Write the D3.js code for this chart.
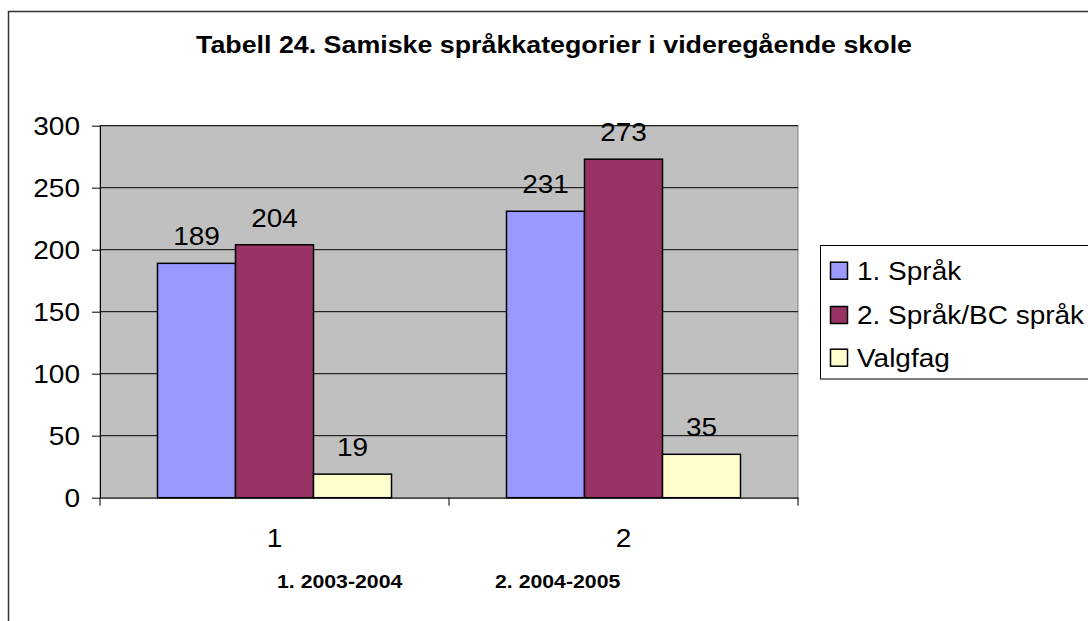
<!DOCTYPE html>
<html><head><meta charset="utf-8">
<script src="https://cdn.jsdelivr.net/npm/d3@7"></script>
<style>body{margin:0;background:#fff}svg{display:block}text{font-family:"Liberation Sans",Arial,sans-serif}</style>
</head><body>
<script>
const title = "Tabell 24. Samiske språkkategorier i videregående skole";
const categories = ["1", "2"];
const seriesNames = ["1. Språk", "2. Språk/BC språk", "Valgfag"];
const sprak1 = [189, 231];
const sprak2 = [204, 273];
const valgfag = [19, 35];
const yTicks = [0, 50, 100, 150, 200, 250, 300];
const periodLabels = ["1. 2003-2004", "2. 2004-2005"];
const colors = ["#9999FF", "#993366", "#FFFFCC"];

const series = [sprak1, sprak2, valgfag];
const W = 1088, H = 621;
const svg = d3.select("body").append("svg").attr("width", W).attr("height", H);
const SX = 1.12;

function txt(g, x, y, s, size, anchor, weight) {
  return g.append("text")
    .attr("transform", `translate(${x},${y}) scale(${SX},1)`)
    .attr("text-anchor", anchor || "middle")
    .attr("font-size", size)
    .attr("font-weight", weight || "normal")
    .attr("fill", "#000")
    .text(s);
}

// outer frame
svg.append("path").attr("d", `M8.5,${H+5} V11.5 H${W+5}`).attr("fill", "none").attr("stroke", "#333").attr("stroke-width", 1.5);

// title
svg.append("text").attr("x", 196).attr("y", 53).attr("font-size", 23).attr("font-weight", "bold")
  .attr("textLength", 716).attr("lengthAdjust", "spacingAndGlyphs").text(title);

const L = 100, R = 798, T = 125.7, B = 497.7;
const x0 = d3.scaleBand().domain(categories).range([L, R]).paddingInner(0).paddingOuter(0);
const y = d3.scaleLinear().domain([0, 300]).range([B, T]);
const barW = 78;
const x1 = d3.scaleBand().domain(d3.range(series.length)).range([0, barW * 3]);

// plot bg
svg.append("rect").attr("x", L).attr("y", T).attr("width", R - L).attr("height", B - T)
  .attr("fill", "#C0C0C0").attr("stroke", "#808080").attr("stroke-width", 1);

// gridlines
svg.append("g").selectAll("line").data(yTicks.filter(d => d > 0)).join("line")
  .attr("x1", L).attr("x2", R).attr("y1", d => y(d)).attr("y2", d => y(d))
  .attr("stroke", "#000").attr("stroke-width", 1);

// y axis
const ya = svg.append("g").attr("transform", `translate(${L},0)`)
  .call(d3.axisLeft(y).tickValues(yTicks).tickSize(8).tickSizeOuter(0));
ya.select(".domain").attr("stroke", "#000");
ya.selectAll(".tick line").attr("stroke", "#000");
ya.selectAll(".tick text").remove();
yTicks.forEach(v => txt(svg, 80, y(v) + 9, String(v), 25, "end"));

// x axis
const xa = svg.append("g").attr("transform", `translate(0,${B})`)
  .call(d3.axisBottom(x0).tickSize(0).tickSizeOuter(0));
xa.select(".domain").attr("stroke", "#000");
xa.selectAll(".tick").remove();
const bounds = [L, ...categories.map(c => x0(c) + x0.bandwidth())];
svg.append("g").selectAll("line").data(bounds).join("line")
  .attr("x1", d => d).attr("x2", d => d).attr("y1", B).attr("y2", B + 8).attr("stroke", "#000");

// bars
categories.forEach((c, ci) => {
  const start = x0(c) + (x0.bandwidth() - barW * 3) / 2;
  series.forEach((s, si) => {
    const bx = start + x1(si);
    svg.append("rect").attr("x", bx).attr("y", y(s[ci])).attr("width", x1.bandwidth())
      .attr("height", B - y(s[ci])).attr("fill", colors[si]).attr("stroke", "#000").attr("stroke-width", 1.5);
    txt(svg, bx + x1.bandwidth() / 2, y(s[ci]) - 18, String(s[ci]), 25, "middle");
  });
  txt(svg, x0(c) + x0.bandwidth() / 2, 547, c, 25, "middle");
});

// period labels
txt(svg, 277, 588, periodLabels[0], 19, "start", "bold");
txt(svg, 495, 588, periodLabels[1], 19, "start", "bold");

// legend
svg.append("rect").attr("x", 820.5).attr("y", 245.5).attr("width", 300).attr("height", 133.5)
  .attr("fill", "#fff").attr("stroke", "#000").attr("stroke-width", 1);
const rows = [270.7, 315, 357.7];
seriesNames.forEach((n, i) => {
  svg.append("rect").attr("x", 830.5).attr("y", rows[i] - 8.5).attr("width", 17).attr("height", 17)
    .attr("fill", colors[i]).attr("stroke", "#000").attr("stroke-width", 1.5);
  txt(svg, 857, rows[i] + 9, n, 25, "start");
});
</script>
</body></html>
